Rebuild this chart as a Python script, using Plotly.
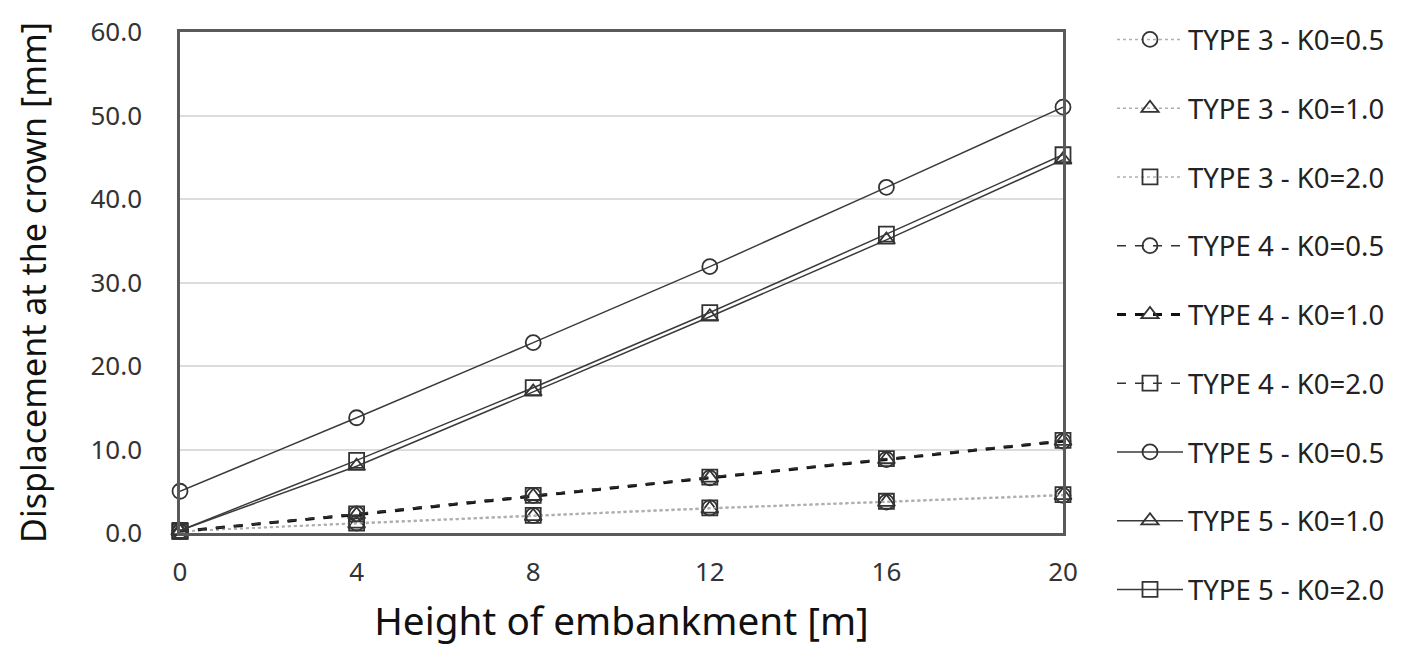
import plotly.graph_objects as go

heights = [0, 4, 8, 12, 16, 20]

type3_k05 = [0.2, 1.2, 2.1, 3.0, 3.7, 4.5]
type3_k10 = [0.2, 1.1, 2.0, 2.9, 3.7, 4.5]
type3_k20 = [0.2, 1.2, 2.1, 3.0, 3.8, 4.6]
type4_k05 = [0.2, 2.3, 4.5, 6.6, 8.8, 11.0]
type4_k10 = [0.2, 2.2, 4.4, 6.6, 8.8, 11.0]
type4_k20 = [0.2, 2.3, 4.5, 6.7, 8.9, 11.1]
type5_k05 = [5.0, 13.8, 22.8, 31.9, 41.4, 51.0]
type5_k10 = [0.3, 8.0, 16.9, 25.9, 35.1, 44.7]
type5_k20 = [0.3, 8.7, 17.4, 26.4, 35.8, 45.3]

names = ["TYPE 3 - K0=0.5", "TYPE 3 - K0=1.0", "TYPE 3 - K0=2.0",
         "TYPE 4 - K0=0.5", "TYPE 4 - K0=1.0", "TYPE 4 - K0=2.0",
         "TYPE 5 - K0=0.5", "TYPE 5 - K0=1.0", "TYPE 5 - K0=2.0"]
values = [type3_k05, type3_k10, type3_k20,
          type4_k05, type4_k10, type4_k20,
          type5_k05, type5_k10, type5_k20]

symbols = ["circle-open", "triangle-up-open", "square-open"] * 3
line_styles = [
    dict(color="#b0b0b0", width=1.5, dash="dot"),
    dict(color="#b0b0b0", width=1.5, dash="dot"),
    dict(color="#b0b0b0", width=1.5, dash="dot"),
    dict(color="#333333", width=1.5, dash="dash"),
    dict(color="#111111", width=3, dash="dash"),
    dict(color="#333333", width=1.5, dash="dash"),
    dict(color="#3a3a3a", width=1.5, dash="solid"),
    dict(color="#3a3a3a", width=1.5, dash="solid"),
    dict(color="#3a3a3a", width=1.5, dash="solid"),
]

fig = go.Figure()
for i, (n, v) in enumerate(zip(names, values)):
    fig.add_trace(go.Scatter(
        x=heights, y=v, name=n, mode="lines+markers",
        line=line_styles[i],
        marker=dict(symbol=symbols[i], size=15, color="#333333",
                    line=dict(color="#333333", width=1.8)),
        legendgroup=n, cliponaxis=False,
    ))

fig.update_layout(
    width=1414, height=670,
    paper_bgcolor="white", plot_bgcolor="white",
    margin=dict(l=172, r=359, t=24, b=145, autoexpand=False),
    font=dict(family="Noto Sans", color="#333333"),
    legend=dict(x=1104 / 1414, xanchor="left", y=1 - 7 / 670, yanchor="top",
                xref="container", yref="container",
                font=dict(size=27.5, color="#222222"),
                tracegroupgap=30, itemwidth=66, maxheight=1.0,
                bgcolor="rgba(0,0,0,0)"),
    showlegend=True,
)
fig.update_xaxes(
    range=[0, 20], tickvals=heights, ticktext=[str(h) for h in heights],
    showgrid=False, zeroline=False, automargin=False,
    showline=True, linecolor="#5a5a5a", linewidth=2.5, mirror=True,
    ticks="outside", ticklen=14, tickcolor="rgba(0,0,0,0)",
    tickfont=dict(size=26, color="#333333"),
    title=dict(text="Height of embankment [m]", font=dict(size=38.7, color="#111111"), standoff=20),
)
fig.update_yaxes(
    range=[0, 60], dtick=10, tickformat=".1f",
    showgrid=True, gridcolor="#dcdcdc", gridwidth=1.5, zeroline=False, automargin=False,
    showline=True, linecolor="#5a5a5a", linewidth=2.5, mirror=True,
    ticks="outside", ticklen=30, tickcolor="rgba(0,0,0,0)",
    tickfont=dict(size=26, color="#333333"),
    title=dict(text="Displacement at the crown [mm]", font=dict(size=34, color="#111111"), standoff=34),
)

fig.write_html("out.html")
